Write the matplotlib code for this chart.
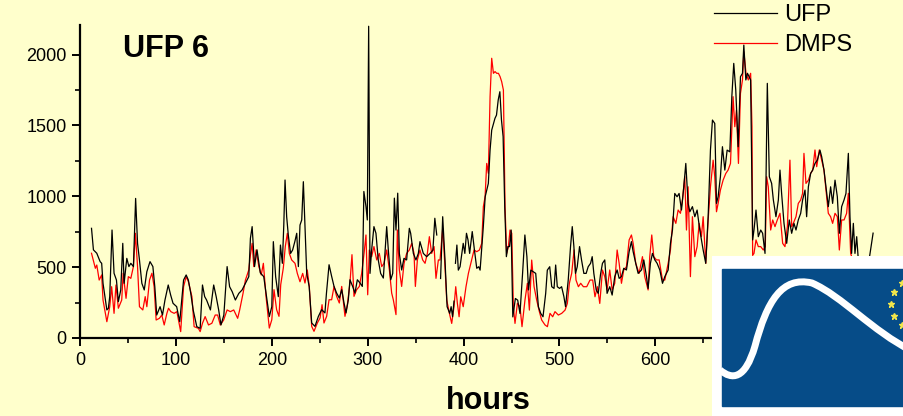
import numpy as np
import matplotlib
matplotlib.use("Agg")
import matplotlib.pyplot as plt
from matplotlib.lines import Line2D
from matplotlib.path import Path
from matplotlib.patches import PathPatch, Rectangle

plt.rcParams['font.family'] = ['Liberation Sans', 'DejaVu Sans']

# ---------------- data ----------------
ufp_hours = [12, 14, 17.5, 21, 22.6, 24, 28, 29.6, 31, 33.4, 35.5, 38, 40, 42.5, 44.6, 46, 48.8, 51, 53, 55.7,
             58, 60, 62, 64.5, 67, 69.7, 73, 76, 78, 80, 83.5, 86, 88.6, 92, 94.5, 97, 100.8, 104, 108, 110.7,
             113, 115.5, 118, 121.8, 125.3, 127.7, 130, 132, 136, 139.4, 142, 144.6, 147, 150, 153.4, 156, 158.7,
             162, 165.6, 169, 172.5, 176, 177.7, 179.5, 182, 184.6, 188, 191.6, 194, 197.4, 200, 201.6, 204, 206.8,
             209, 211, 212.5, 213.8, 215.5, 217.2, 219.6, 221.7, 224, 226, 227.7, 229.4, 231.2, 232.9, 234.6, 236.4,
             239, 241.6, 245, 248.6, 252, 255.4, 257, 259.7, 262.4, 264.9, 267.6, 270.4, 272.9, 275.3, 277.4, 279.8,
             281.5, 284.3, 286.7, 289.2, 292, 294.4, 296, 298.2, 299.6, 301, 302.4, 304.1, 306.5, 308.6, 311, 313.5,
             316.3, 319.8, 321.5, 324, 326.1, 327.8, 329.5, 331.3, 333, 335.4, 337.8, 340.6, 343.4, 344.8, 347.6,
             350.3, 352.8, 354.5, 358, 361.5, 365, 368, 370, 372, 374, 376, 378.2, 380.6, 382.8, 385.5, 387, 388.5,
             390, 390.5, 391.5, 393, 394.5, 396.3, 399.6, 401.3, 403, 404.6, 406.3, 409, 411.3, 413.7, 415.8, 417.2,
             420.5, 422.5, 425.8, 427.6, 429.3, 432.7, 434.3, 436.1, 437.8, 439.5, 441.2, 442.9, 444.6, 446.2, 447.9,
             449.6, 451.3, 454, 456.4, 458.8, 461.5, 463.9, 466, 467.7, 470.1, 472.5, 475.2, 478, 480.4, 482.8,
             485.6, 487.3, 489.8, 491.9, 494.3, 496, 497.7, 500.1, 502.2, 504.6, 506.3, 509.1, 511.5, 513.3, 515,
             516.7, 518.5, 520.9, 523, 525.4, 527.8, 529.9, 532.4, 534.1, 535.8, 538.3, 540.4, 542.8, 544.8, 547.2,
             549.6, 552.4, 554.9, 557.6, 560.1, 562.2, 564.6, 567, 569.8, 572.6, 575, 576.8, 579.5, 582, 585.5,
             587.9, 590.7, 592.4, 594.8, 596.9, 599.4, 601.8, 604.6, 607.4, 609.8, 613.3, 615.7, 617.8, 620.2,
             622.6, 624.7, 627.2, 629.6, 631.7, 634.1, 635.9, 638.6, 641.1, 643.5, 646.3, 649.8, 652.5, 655, 657.4,
             659.5, 661.9, 663.7, 665.4, 667.8, 669.9, 672.4, 674.8, 677.6, 679.7, 681.7, 683.8, 686.3, 688.7,
             690.8, 692.2, 694.3, 696, 699.3, 701.4, 702.8, 704.9, 707.3, 709.8, 711.8, 714.3, 716.7, 718.8, 721.2,
             723, 725.7, 728.2, 729.9, 731.6, 734.1, 736.9, 739.6, 742.1, 744.5, 746.6, 749, 751.5, 753.5, 756,
             757.7, 759.5, 761.9, 764, 766.4, 768.8, 771.6, 773.4, 775.8, 777.9, 780.3, 782.7, 784.8, 787.3, 789.7,
             791.8, 794.2, 796.7, 798.7, 801.2, 802.9, 804.6, 806.4, 808.1, 809.9, 811.6, 814, 817, 820, 823, 825, 827]
ufp_values = [774, 622, 598, 539, 527, 386, 198, 210, 292, 762, 457, 409, 257, 339, 668, 386, 562, 504, 527, 504,
              985, 668, 551, 386, 339, 468, 539, 504, 362, 162, 221, 162, 268, 374, 304, 245, 221, 115, 409, 445,
              409, 315, 198, 80, 68, 374, 292, 268, 198, 374, 292, 198, 92, 162, 504, 362, 327,
              268, 315, 339, 386, 433, 704, 786, 504, 622, 460, 433, 315, 151, 221, 680, 433, 292,
              656, 527, 797, 1115, 856, 727, 597, 621, 680, 739, 504, 797, 833, 1103, 786, 456,
              362, 106, 82, 153, 200, 177, 317, 517, 435, 364, 317, 282, 341, 247, 177, 270,
              411, 364, 317, 411, 388, 364, 1034, 928, 833, 2200, 456, 621, 786, 739, 551, 456,
              423, 786, 621, 411, 456, 987, 762, 1022, 597, 480, 562, 551, 774, 739, 597,
              551, 597, 680, 597, 574, 597, 620, 845, 727, np.nan, 420, 856, 550, 221, 174, 221, 150,
              260, np.nan, 527, 656, 479, 503, 668, 597, 739, 692, 597, 751, 621, 492, 503, 479,
              780, 997, 1091, 1326, 1467, 1550, 1573, 1680, 1738, 1538, 1421, 927, 574, 645, 645,
              762, 149, 279, 267, 173, 456, 727, 574, 339, 479, 468, 456, 221, 174, 150,
              315, 479, 503, 362, 350, 515, 362, 350, 362, 291, 221, 409, 645, 786, 645,
              456, 503, 645, 550, 456, 456, 503, 527, 574, 456, 339, 315, 450, 527, 551,
              315, 362, 303, 433, 480, 421, 433, 492, 480, 609, 680, 609, 527, 456, 480,
              551, 433, 350, 527, 597, 551, 527, 480, 386, 433, 480, 668, 762, 1020,
              997, 1020, 903, 1067, 1232, 950, 891, 927, 856, 903, 762, 621, 527, 856, 1326,
              1538, 1514, 950, 997, 1138, 1350, 1185, 1326, 1314, 1703, 1938, 1750, 1350, 1844,
              1868, 2067, 1821, 1868, 1821, 692, 762, 903, 715, 762, 739, 597, 1797, 1138, 1091,
              974, 856, 974, 1185, 1021, 809, 668, 833, 739, 809, 762, 833, 880, 974, 1044,
              856, 1067, 1162, 1185, 1232, 1255, 1326, 1279, 1185, 1067, 927, 1067, 950, 1114, 997,
              739, 927, 974, 1020, 1303, 856, 597, 809, 597, 715, 550, 450, 500, 480, 560, 650, 740]

dmps_hours = [12, 16, 17.5, 20, 22.6, 24, 28, 31, 33, 35.5, 37.5, 40, 43.5, 45, 48, 50.4, 53, 55.7, 57.8, 60,
              62, 65.5, 68, 69.7, 72.5, 75, 77.3, 79.4, 82.8, 85.3, 87.8, 90.6, 92.3, 94.7, 98.2, 101, 105, 108,
              110.7, 113, 116.7, 119, 123.5, 125.3, 127.7, 130.5, 134, 137.5, 141, 143.5, 146.3, 149.8, 153.4,
              156.8, 160.3, 164.4, 166.5, 170, 172.5, 176, 177.7, 179.5, 181.2, 183.7, 186.5, 189, 191.2, 194,
              197.4, 200, 202.3, 205, 207.5, 209.3, 212, 214.1, 216.2, 218.3, 220.7, 224.2, 226.6, 229.4, 232.2,
              234.6, 237, 239.1, 241.6, 244, 247.5, 250.3, 252.4, 254.4, 257.2, 259.7, 262.4, 264.9, 267.6, 270.4,
              272.9, 276.3, 278.8, 281.5, 283.6, 285.7, 288.5, 291.3, 293.7, 296.2, 298.2, 300, 301.7, 304.1,
              306.5, 309.4, 312.1, 314.6, 317, 319.8, 322.6, 325, 326.7, 329.5, 330.9, 333, 335.4, 337.9, 340.6,
              343.4, 345.9, 348.3, 349.7, 351.8, 354.5, 357.3, 359.8, 362.2, 364.3, 366.7, 369.2, 371.2, 373.7,
              375.4, 378.2, 380.6, 382.4, 385.2, 387.6, 390, 391.8, 393.5, 395.3, 397, 399.6, 402.5, 405, 406.7,
              408.5, 410.9, 413.7, 416.5, 418.9, 420.6, 422.4, 424.1, 425.8, 427.6, 429.3, 431.1, 432.8, 434.5,
              436.3, 438, 439.7, 441.5, 443.2, 444.9, 446.7, 448.4, 450.2, 451.9, 453.6, 456.1, 458.8, 460.9, 464,
              466.5, 468.6, 471, 473.5, 476.2, 479, 481.4, 484.9, 487.4, 490.1, 492.9, 495.3, 498.8, 502.3, 505.8,
              508.2, 510.3, 512.7, 515.2, 517.2, 519.7, 522.1, 524.9, 528.4, 531.8, 534.6, 537, 539.5, 542,
              544.8, 547.2, 549.6, 552.4, 554.9, 557.6, 560.1, 562.2, 564.6, 567, 569.8, 572.6, 575, 576.8, 579.5,
              583, 586.5, 588.9, 592.4, 594.1, 596.2, 598.3, 601.1, 603.9, 607.4, 609.8, 613.3, 615.7, 618.5,
              621.3, 623.7, 626.1, 628.2, 630.6, 632.4, 634.1, 636.5, 638.6, 641.1, 643.5, 645.6, 648, 649.8,
              652.5, 655, 657.4, 660.2, 661.9, 663.7, 665.4, 667.8, 670.6, 673.4, 675.8, 678.3, 681, 682.8, 684.5,
              686.6, 688.7, 690.8, 692.2, 694.5, 696.9, 699.3, 700.7, 701.4, 702.8, 704.9, 707.3, 709.8, 712.5,
              714.6, 716, 717.7, 720.2, 722.3, 724.7, 727.1, 729.9, 732.7, 735.1, 737.6, 740.3, 742.1, 743.8,
              746.6, 749, 751.5, 753.5, 754.9, 757, 759.5, 761.9, 764, 766.4, 768.2, 770.9, 773.4, 775.8, 777.9,
              780.3, 782.7, 784.8, 787.3, 789.7, 791.8, 794.2, 796.7, 799.4, 801.2, 803.6, 805.7, 808, 812, 816, 820]
dmps_values = [598, 492, 515, 409, 445, 268, 115, 221, 362, 174, 374, 210, 268, 457, 280, 433, 421, 504, 739, 504,
               221, 198, 292, 221, 409, 457, 362, 127, 139, 162, 92, 174, 210, 186, 174, 186, 45, 362,
               433, 398, 292, 80, 68, 45, 104, 151, 92, 104, 162, 162, 92, 127, 198,
               186, 198, 139, 198, 315, 409, 480, 586, 668, 504, 622, 504, 445, 527, 292,
               70, 129, 341, 200, 153, 376, 494, 647, 739, 597, 551, 527, 456, 397, 456,
               388, 480, 362, 82, 47, 106, 141, 235, 106, 153, 270, 270, 364, 294, 247,
               364, 153, 235, 388, 588, 294, 341, 364, 456, 597, 727, 305, 621, 574,
               645, 551, 597, 504, 527, 621, 480, 317, 270, 165, 762, 480, 364, 527, 597,
               621, 668, 597, 364, 551, 621, 551, 527, 597, 715, 597, 645, 421, 551,
               550, 774, 503, 268, 174, 103, 221, 362, 245, 150, 291, 221, 362, 456, 503,
               550, 621, 609, 621, 668, 927, 997, 1232, 1162, 1703, 1974, 1868, 1880, 1868,
               1868, 1845, 1809, 1750, 927, 597, 645, 762, 739, 221, 103, 245, 221, 80, 268,
               386, 197, 550, 362, 268, 186, 127, 92, 80, 174, 150, 186, 162, 174, 197,
               245, 386, 456, 621, 409, 362, 386, 362, 362, 409, 409, 291, 362, 244,
               480, 433, 339, 480, 339, 386, 621, 527, 386, 480, 503, 692, 727, 668, 527,
               456, 574, 433, 339, 574, 727, 574, 551, 551, 409, 409, 527, 621, 856,
               809, 903, 880, 974, 1138, 762, 1067, 433, 856, 574, 645, 809, 715, 856,
               527, 833, 1067, 1255, 1138, 891, 950, 1044, 1114, 1161, 1185, 1232, 1703, 1491, 1609,
               1232, 1726, 1821, 2020, 1868, 1821, 1868, 1492, 583, 597, 692, 645, 645, 621,
               645, 1138, 1067, 762, 833, 786, 833, 880, 668, 645, 786, 1255, 786, 809,
               856, 950, 974, 1021, 1303, 1091, 1114, 1162, 1185, 1327, 1209, 1327, 1255, 1185, 1044,
               880, 856, 809, 880, 856, 621, 833, 833, 880, 1021, 597, 550, 500, 560, 450, 520]

series_labels = ["UFP", "DMPS"]
chart_title = "UFP 6"
x_label = "hours"

# ---------------- figure ----------------
W, H = 904, 416
bg = "#FFFFCC"
fig = plt.figure(figsize=(W / 100, H / 100), dpi=100, facecolor=bg)

ax = fig.add_axes([80 / W, 1 - 338 / H, 826 / W, (338 - 25) / H])
ax.set_facecolor(bg)
ax.plot(ufp_hours, ufp_values, color="black", lw=0.9, zorder=3)
ax.plot(dmps_hours, dmps_values, color="red", lw=0.9, zorder=2)

ax.set_xlim(0, 826 / 0.959)
ax.set_ylim(0, 313 / 0.1417)
for s in ["top", "right"]:
    ax.spines[s].set_visible(False)
for s in ["left", "bottom"]:
    ax.spines[s].set_linewidth(1.6)

ax.set_xticks(np.arange(0, 801, 100))
ax.set_xticks(np.arange(50, 851, 100), minor=True)
ax.set_yticks(np.arange(0, 2001, 500))
ax.set_yticks(np.arange(250, 2001, 500), minor=True)
ax.tick_params(which="major", direction="out", length=6, width=1.4, labelsize=13, pad=3.5)
ax.tick_params(which="minor", direction="out", length=3.5, width=1.2)
ax.tick_params(axis="x", which="major", pad=4)

fig.text(123 / W, 1 - 57 / H, chart_title, fontsize=22, fontweight="bold", va="baseline", ha="left")
fig.text(488 / W, 1 - 409 / H, x_label, fontsize=22, fontweight="bold", va="baseline", ha="center")

handles = [Line2D([], [], color="black", lw=0.9), Line2D([], [], color="red", lw=0.9)]
fig.legend(handles, series_labels, loc="upper left", bbox_to_anchor=(714 / W, 1 - 4 / H),
           frameon=False, fontsize=17, handlelength=2.65, handletextpad=0.3,
           labelspacing=0.33, borderpad=0, borderaxespad=0)

# ---------------- logo (decoration, bottom right) ----------------
lax = fig.add_axes([712 / W, 0, (W - 712) / W, 160 / H], zorder=10)
lax.set_xlim(0, W - 712)
lax.set_ylim(0, 160)
lax.axis("off")
lax.add_patch(Rectangle((0, 0), W - 712, 160, color="white"))
lax.add_patch(Rectangle((10, 10), W - 712, 137, color="#064C88"))
verts = [(8, 46), (20, 36), (33, 36), (43, 70), (55, 115), (70, 140), (100, 133),
         (130, 120), (160, 85), (200, 65)]
codes = [Path.MOVETO] + [Path.CURVE4] * 9
lax.add_patch(PathPatch(Path(verts, codes), fc="none", ec="white", lw=5))
star_x = [190, 182, 179, 182, 190]
star_y = [133, 124, 112, 100, 91]
lax.plot(star_x, star_y, ls="none", marker="*", color="#F2E64B", ms=5)

fig.savefig("out.png", dpi=100, facecolor=bg)
